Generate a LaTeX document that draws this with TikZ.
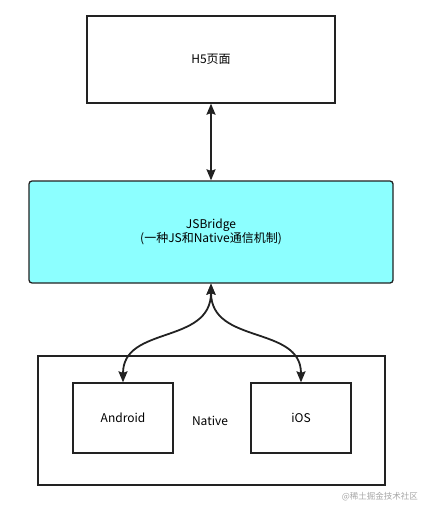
\documentclass[tikz,border=0pt]{standalone}
\usepackage{fontspec}
\setmainfont{Noto Sans CJK SC}
\usetikzlibrary{arrows.meta}
\definecolor{bridgecyan}{RGB}{140,255,255}
\definecolor{linegray}{RGB}{34,34,34}
\tikzset{
  box/.style={draw=linegray, line width=1.3pt, inner sep=0pt, align=center},
  link/.style={draw=linegray, line width=1.8pt, {Stealth[length=11pt,width=9pt,inset=1.5pt]}-{Stealth[length=11pt,width=9pt,inset=1.5pt]}}
}
\begin{document}
\begin{tikzpicture}[x=1pt, y=-1pt, font=\fontsize{12}{14}\selectfont]
  \useasboundingbox (0,0) rectangle (422,506);
  % top page
  \node[box, minimum width=248pt, minimum height=87pt] (h5) at (211,59.5) {H5页面};
  % bridge layer
  \node[box, fill=bridgecyan, rounded corners=3pt, minimum width=364pt, minimum height=102pt] (bridge) at (211,232)
    {JSBridge\\(一种JS和Native通信机制)};
  % native side
  \node[box, minimum width=347pt, minimum height=129pt] (native) at (211.5,420.5) {};
  \node (nativelbl) at (210,421) {Native};
  \node[box, minimum width=100pt, minimum height=70pt] (android) at (123,418) {Android};
  \node[box, minimum width=100pt, minimum height=70pt] (ios) at (301,418) {iOS};
  % connectors
  \draw[link] (h5.south) -- (bridge.north);
  \draw[link] (bridge.south) .. controls (211,345) and (123,325) .. (android.north);
  \draw[link] (bridge.south) .. controls (211,345) and (301,325) .. (ios.north);
  % watermark
  \node[anchor=east, text=black!35, font=\fontsize{8.5}{10}\selectfont, inner sep=0pt] (mark) at (418,497) {@稀土掘金技术社区};
\end{tikzpicture}
\end{document}
